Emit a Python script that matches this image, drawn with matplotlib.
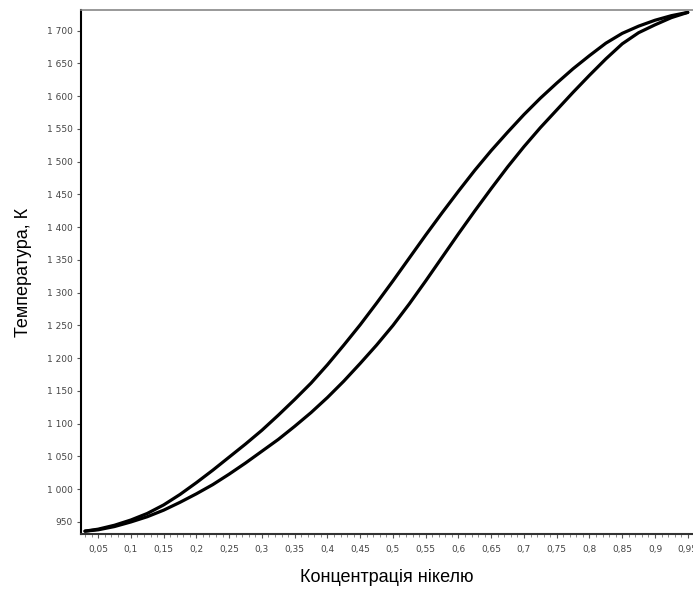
import numpy as np
import matplotlib.pyplot as plt
from matplotlib.ticker import FuncFormatter, MultipleLocator

# концентрація нікелю (мольна частка)
conc = [0.03, 0.05, 0.075, 0.10, 0.125, 0.15, 0.175, 0.20, 0.225, 0.25,
        0.275, 0.30, 0.325, 0.35, 0.375, 0.40, 0.425, 0.45, 0.475, 0.50,
        0.525, 0.55, 0.575, 0.60, 0.625, 0.65, 0.675, 0.70, 0.725, 0.75,
        0.775, 0.80, 0.825, 0.85, 0.875, 0.90, 0.925, 0.95]

# ліквідус, K
t_liq = [936, 939, 945, 953, 963, 976, 992, 1010, 1029, 1049,
         1069, 1090, 1113, 1137, 1162, 1190, 1220, 1251, 1284, 1318,
         1353, 1388, 1422, 1455, 1487, 1517, 1545, 1572, 1597, 1620,
         1642, 1662, 1681, 1696, 1707, 1716, 1723, 1728]

# солідус, K
t_sol = [936, 938, 943, 950, 958, 968, 980, 993, 1007, 1023,
         1040, 1058, 1076, 1096, 1117, 1140, 1165, 1192, 1220, 1250,
         1283, 1318, 1354, 1390, 1425, 1459, 1492, 1523, 1552, 1579,
         1606, 1632, 1657, 1680, 1697, 1709, 1720, 1728]

fig = plt.figure(figsize=(6.93, 5.90), dpi=100)
ax = fig.add_axes([0.117, 0.095, 0.883, 0.888])

for t in (t_liq, t_sol):
    ax.plot(conc, t, color="black", lw=2.3,
            solid_capstyle="round", solid_joinstyle="round")

ax.set_xlim(0.024, 0.958)
ax.set_ylim(931.7, 1731.6)

ax.xaxis.set_major_locator(MultipleLocator(0.05))
ax.xaxis.set_minor_locator(MultipleLocator(0.01))
ax.yaxis.set_major_locator(MultipleLocator(50))


def fmt_x(v, pos):
    s = "%.2f" % v
    s = s.rstrip("0").rstrip(".")
    return s.replace(".", ",")


def fmt_y(v, pos):
    return "{:,}".format(int(round(v))).replace(",", " ")


ax.xaxis.set_major_formatter(FuncFormatter(fmt_x))
ax.yaxis.set_major_formatter(FuncFormatter(fmt_y))

ax.tick_params(axis="both", which="major", labelsize=6.5, labelcolor="#444444",
               length=3, width=0.8, color="#555555", pad=3)
ax.tick_params(axis="x", which="minor", length=2, width=0.6, color="#777777")
ax.tick_params(axis="x", which="major", pad=5)

ax.spines["right"].set_visible(False)
ax.spines["top"].set_color("#888888")
ax.spines["top"].set_linewidth(1.2)
ax.spines["left"].set_color("black")
ax.spines["left"].set_linewidth(1.5)
ax.spines["bottom"].set_color("#333333")
ax.spines["bottom"].set_linewidth(1.5)

ax.set_xlabel("Концентрація нікелю", fontsize=13, family="Liberation Sans",
              labelpad=11)
ax.set_ylabel("Температура, К", fontsize=13, family="Liberation Sans",
              labelpad=11)

fig.savefig("out.png", dpi=100)
